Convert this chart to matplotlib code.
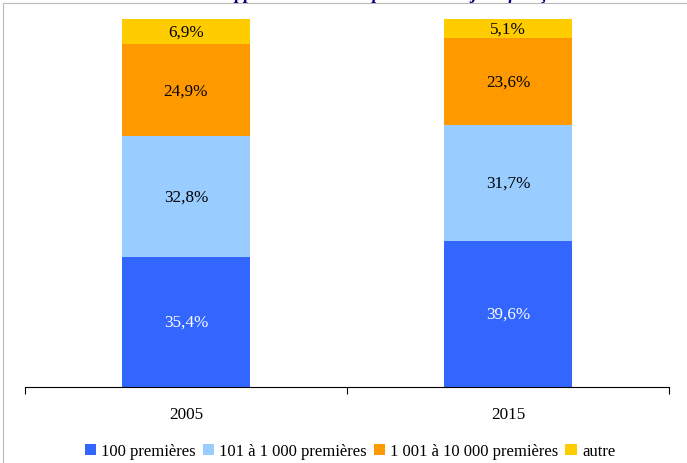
import matplotlib.pyplot as plt
import matplotlib.lines as mlines
import numpy as np

years = ["2005", "2015"]
series = ["100 premières", "101 à 1 000 premières",
          "1 001 à 10 000 premières", "autre"]
values = {
    "100 premières": [35.4, 39.6],
    "101 à 1 000 premières": [32.8, 31.7],
    "1 001 à 10 000 premières": [24.9, 23.6],
    "autre": [6.9, 5.1],
}
colors = ["#3366FF", "#99CCFF", "#FF9900", "#FFCC00"]
text_colors = ["white", "black", "black", "black"]

plt.rcParams['font.family'] = ['Liberation Serif', 'DejaVu Serif']

fig = plt.figure(figsize=(6.87, 4.64), dpi=100)
ax = fig.add_axes([25 / 687, 76 / 464, 644 / 687, 368 / 464])

x = np.arange(len(years))
bottom = np.zeros(len(years))
for name, col, tcol in zip(series, colors, text_colors):
    vals = np.array(values[name])
    ax.bar(x, vals, 0.4, bottom=bottom, color=col, label=name)
    for xi, b, v in zip(x, bottom, vals):
        ax.text(xi, b + v / 2, ("%.1f%%" % v).replace(".", ","),
                ha="center", va="center", color=tcol, fontsize=12.3)
    bottom += vals

ax.set_xlim(-0.5, 1.5)
ax.set_ylim(0, 100)
ax.set_yticks([])
for s in ["left", "right", "top"]:
    ax.spines[s].set_visible(False)
ax.spines["bottom"].set_linewidth(0.8)
ax.set_xticks(x)
ax.set_xticklabels(years, fontsize=12.3)
ax.tick_params(axis="x", which="major", length=0, pad=14)
ax.set_xticks([-0.5, 0.5, 1.5], minor=True)
ax.tick_params(axis="x", which="minor", length=5, width=0.8, direction="out")

ax.legend(loc="lower center", bbox_to_anchor=(350 / 687, -0.01),
          bbox_transform=fig.transFigure, ncol=4, frameon=False,
          fontsize=12, handlelength=0.7, handleheight=0.7,
          handletextpad=0.3, columnspacing=0.4, borderpad=0)

# chart area border (partly cut off in the original)
fig.add_artist(mlines.Line2D([3 / 687, 3 / 687], [0, 1 - 4 / 464],
                             color="#BBBBBB", lw=0.8))
fig.add_artist(mlines.Line2D([3 / 687, 1], [1 - 4 / 464, 1 - 4 / 464],
                             color="#BBBBBB", lw=0.8))

# title, cut off at the top of the picture as in the original
fig.text(0.5, 1 + 1 / 464, "Évolution de l'approvisionnement par taille des jeux français",
         ha="center", va="baseline", color="#000080", fontsize=13,
         fontweight="bold", fontstyle="italic")

fig.savefig("out.png", dpi=100)
